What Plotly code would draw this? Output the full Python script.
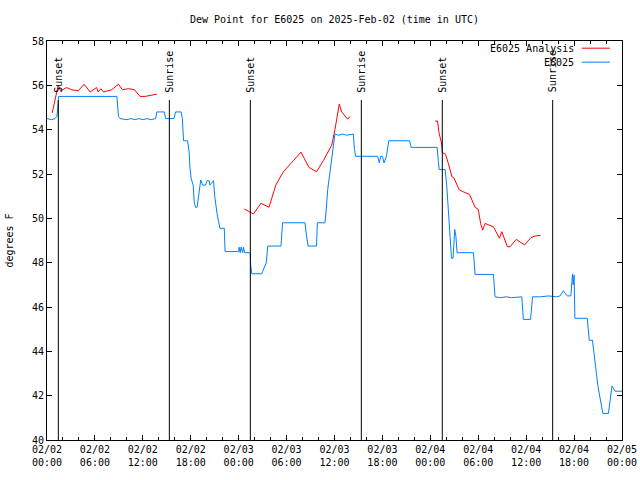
import plotly.graph_objects as go
import pandas as pd

BASE = pd.Timestamp("2025-02-02 00:00")

# E6025 Analysis (red) - hours after 2025-02-02 00:00 UTC; None = gap
analysis_hours = [0.65, 1.0, 1.4, 1.7, 2.45, 3.1, 3.9, 4.65, 5.4, 6.2, 6.4, 6.75, 7.05, 8.1, 8.95,
                  9.45, 10.2, 10.95, 11.65, 12.3, 13.1, 13.75,
                  None,
                  24.7, 25.85, 26.8, 27.8, 28.65, 29.6, 30.85, 31.8, 32.8, 33.75, 34.6, 35.65, 36.05,
                  36.6, 36.9, 37.65, 37.95,
                  None,
                  48.6, 48.9, 49.1, 49.4, 49.5, 49.9, 50.25, 50.7, 50.95, 51.6, 52.1, 52.9, 53.6, 54.0,
                  54.3, 54.55, 54.85, 55.25, 55.9, 56.65, 56.95, 57.65, 58.0, 58.75, 59.8, 60.6, 61.1, 61.8]
analysis_values = [54.75, 55.3, 56.0, 55.75, 55.9, 55.8, 55.75, 56.05, 55.7, 55.9, 55.7, 55.85, 55.7, 55.8, 56.05,
                   55.8, 55.85, 55.8, 55.5, 55.5, 55.55, 55.6,
                   None,
                   50.42, 50.2, 50.68, 50.5, 51.5, 52.1, 52.6, 52.99, 52.3, 52.1, 52.6, 53.3, 53.99,
                   55.15, 54.8, 54.47, 54.6,
                   None,
                   54.39, 54.39, 53.83, 53.4, 52.96, 52.89, 52.48, 51.88, 51.83, 51.3, 51.2, 51.08, 50.5, 50.4,
                   49.77, 49.47, 49.77, 49.7, 49.62, 49.1, 49.4, 48.72, 48.72, 49.05, 48.8, 49.13, 49.2, 49.23]

# E6025 observations (blue)
obs_hours = [0.0, 0.6, 1.0, 1.25, 1.45, 8.75, 8.95, 9.15, 10.0, 10.5, 11.0, 11.5, 12.0, 12.5, 13.0, 13.6,
             13.75, 14.7, 14.85, 15.9, 16.1, 16.8, 16.95, 17.1, 17.6, 17.8, 17.9, 18.05, 18.3, 18.45,
             18.6, 18.8, 19.25, 19.5, 19.85, 20.05, 20.3, 20.4, 20.85, 21.0, 21.3, 21.5, 21.65, 22.2,
             22.3, 24.0, 24.05, 24.2, 24.3, 24.5, 24.6, 24.75, 25.35, 25.45, 25.5, 25.65, 26.9, 27.0,
             27.3, 27.45, 27.65, 29.3, 29.5, 32.3, 32.5, 32.7, 33.75, 33.85, 34.8, 34.9, 35.15, 35.45,
             35.75, 36.05, 36.5, 37.0, 37.5, 38.35, 38.5, 38.65, 41.4, 41.6, 41.8, 42.0, 42.2, 42.5,
             42.8, 45.4, 45.6, 48.85, 49.0, 49.1, 49.85, 50.05, 50.25, 50.55, 50.65, 50.85, 51.05,
             51.2, 51.35, 53.4, 53.6, 55.9, 56.1, 56.8, 57.5, 58.2, 58.9, 59.45, 59.65, 60.55, 60.8,
             61.8, 62.8, 63.8, 64.25, 64.65, 65.15, 65.6, 65.8, 65.9, 66.0, 66.1, 67.65, 67.8, 67.9,
             68.3, 68.6, 68.8, 69.0, 69.3, 69.6, 70.3, 70.5, 70.75, 70.9, 71.15, 72.0]
obs_values = [54.5, 54.45, 54.5, 54.6, 55.5, 55.5, 54.6, 54.5, 54.45, 54.5, 54.45, 54.5, 54.45, 54.5, 54.45, 54.5,
              54.8, 54.8, 54.5, 54.5, 54.8, 54.8, 54.5, 53.5, 53.5, 53.0, 52.3, 51.8, 51.5, 50.7,
              50.5, 50.5, 51.73, 51.5, 51.5, 51.7, 51.7, 51.5, 51.7, 51.0, 50.2, 49.8, 49.55, 49.55,
              48.5, 48.5, 48.7, 48.45, 48.7, 48.45, 48.7, 48.45, 48.45, 48.4, 47.9, 47.5, 47.5, 47.6,
              47.9, 48.0, 48.75, 48.75, 49.8, 49.8, 49.2, 48.75, 48.75, 49.8, 49.8, 50.1, 51.3, 52.2,
              52.9, 53.8, 53.75, 53.8, 53.75, 53.8, 53.1, 52.8, 52.8, 52.5, 52.8, 52.8, 52.5, 52.8,
              53.5, 53.5, 53.2, 53.2, 52.6, 52.2, 52.2, 51.5, 50.4, 48.7, 48.2, 48.2, 49.5,
              49.2, 48.45, 48.45, 47.47, 47.47, 46.46, 46.42, 46.46, 46.42, 46.46, 46.46, 45.44, 45.44, 46.46,
              46.46, 46.5, 46.46, 46.5, 46.73, 46.5, 46.5, 47.49, 47.0, 47.45, 45.49, 45.49, 45.05, 44.5,
              44.5, 43.6, 43.2, 42.4, 41.8, 41.2, 41.2, 41.8, 42.44, 42.35, 42.2, 42.2]

# Sunset / sunrise markers
sun_hours = [1.42, 15.32, 25.46, 39.36, 49.5, 63.32]
sun_labels = ["Sunset", "Sunrise", "Sunset", "Sunrise", "Sunset", "Sunrise"]

# X tick labels
tick_hours = [0, 6, 12, 18, 24, 30, 36, 42, 48, 54, 60, 66, 72]
tick_labels = ["02/02<br>00:00", "02/02<br>06:00", "02/02<br>12:00", "02/02<br>18:00",
               "02/03<br>00:00", "02/03<br>06:00", "02/03<br>12:00", "02/03<br>18:00",
               "02/04<br>00:00", "02/04<br>06:00", "02/04<br>12:00", "02/04<br>18:00",
               "02/05<br>00:00"]


def to_time(hours):
    return [BASE + pd.Timedelta(hours=h) if h is not None else None for h in hours]


FONT = "DejaVu Sans Mono"
RED = "#ff0000"
BLUE = "#0080ff"

fig = go.Figure()
fig.add_trace(go.Scatter(x=to_time(analysis_hours), y=analysis_values, mode="lines",
                         line=dict(color=RED, width=1), name="E6025 Analysis",
                         connectgaps=False))
fig.add_trace(go.Scatter(x=to_time(obs_hours), y=obs_values, mode="lines",
                         line=dict(color=BLUE, width=1), name="E6025"))

for h, lab in zip(sun_hours, sun_labels):
    t = BASE + pd.Timedelta(hours=h)
    fig.add_shape(type="line", xref="x", yref="paper", x0=t, x1=t, y0=0, y1=0.852,
                  line=dict(color="black", width=1))
    fig.add_annotation(x=t, xref="x", y=0.866, yref="paper", text=lab, textangle=-90,
                       showarrow=False, xanchor="center", yanchor="bottom",
                       font=dict(family=FONT, size=10, color="black"))

# manual legend (top right)
legend_items = [("E6025 Analysis", RED, 0.982), ("E6025", BLUE, 0.947)]
for name, col, yp in legend_items:
    fig.add_annotation(x=0.92, xref="paper", y=yp, yref="paper", text=name, showarrow=False,
                       xanchor="right", yanchor="middle",
                       font=dict(family=FONT, size=10, color="black"))
    fig.add_shape(type="line", xref="paper", yref="paper", x0=0.930, x1=0.979, y0=yp, y1=yp,
                  line=dict(color=col, width=1))

# y-axis title
fig.add_annotation(x=-0.066, xref="paper", y=0.5, yref="paper", text="degrees F",
                   textangle=-90, showarrow=False, xanchor="center", yanchor="middle",
                   font=dict(family=FONT, size=10, color="black"))

fig.update_layout(
    width=640, height=480, autosize=False,
    margin=dict(l=47, r=18, t=41, b=40, pad=0),
    paper_bgcolor="white", plot_bgcolor="white",
    showlegend=False,
    font=dict(family=FONT, size=10, color="black"),
    title=dict(text="Dew Point for E6025 on 2025-Feb-02 (time in UTC)",
               x=(47 + 622) / 2 / 640, xanchor="center",
               y=1 - 19 / 480, yref="container", yanchor="middle",
               font=dict(family=FONT, size=10, color="black")),
)
fig.update_xaxes(
    type="date", automargin=False,
    range=[BASE, BASE + pd.Timedelta(hours=72)],
    tickvals=to_time(tick_hours), ticktext=tick_labels,
    ticks="inside", ticklen=5, tickcolor="black",
    minor=dict(dtick=2 * 3600 * 1000, tick0=BASE, ticks="inside", ticklen=3, tickcolor="black"),
    showline=True, linecolor="black", linewidth=1, mirror="ticks",
    showgrid=False, zeroline=False,
    tickfont=dict(family=FONT, size=10, color="black"),
)
fig.update_yaxes(
    range=[40, 58], dtick=2, tick0=40, automargin=False,
    ticks="inside", ticklen=5, tickcolor="black",
    showline=True, linecolor="black", linewidth=1, mirror="ticks",
    showgrid=False, zeroline=False,
    tickfont=dict(family=FONT, size=10, color="black"),
)

fig.write_html("out.html",
               config={"displayModeBar": False, "responsive": False},
               post_script="document.body.style.margin='0';document.body.style.padding='0';")
